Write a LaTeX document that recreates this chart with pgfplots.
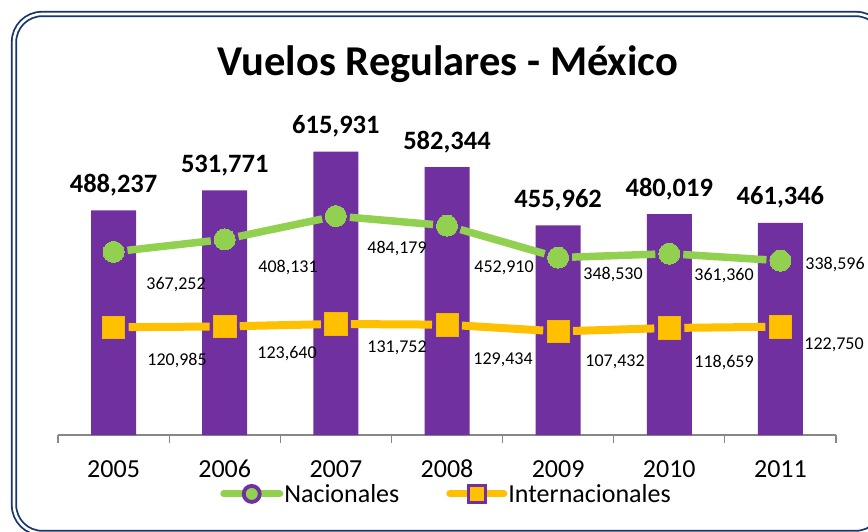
\documentclass[border=0pt]{standalone}
\usepackage{pgfplots}
\pgfplotsset{compat=1.18}
\usepackage{pgfplotstable}
\usepackage{fontspec}
\setmainfont{Carlito}
\definecolor{barpurple}{HTML}{7030A0}
\definecolor{ngreen}{HTML}{92D050}
\definecolor{iyellow}{HTML}{FFC000}
\definecolor{iedge}{HTML}{F5B800}
\definecolor{navy}{HTML}{17366B}
\definecolor{axgray}{HTML}{878787}

\pgfplotstableread{
x tot lab
1 488237 488,237
2 531771 531,771
3 615931 615,931
4 582344 582,344
5 455962 455,962
6 480019 480,019
7 461346 461,346
}\totals

\pgfplotstableread{
x nac int
1 367252 120985
2 408131 123640
3 484179 131752
4 452910 129434
5 348530 107432
6 361360 118659
7 338596 122750
}\series

\begin{document}
\begin{tikzpicture}
\useasboundingbox (0,0) rectangle (868pt,531pt);
\clip (0,0) rectangle (868pt,531pt);
\fill[white] (0,0) rectangle (868pt,531pt);
\draw[navy, line width=1.8pt, double=white, double distance=2.6pt, rounded corners=28pt]
  (14pt,-2pt) rectangle (884pt,517pt);

\node[font=\bfseries\fontsize{42.5}{50}\selectfont, anchor=base] at (448pt,455pt) {Vuelos Regulares - México};

% primary axis: bars (totals)
\begin{axis}[
  at={(58pt,96pt)}, anchor=south west,
  scale only axis, width=778pt, height=322pt,
  xmin=0.5, xmax=7.5, ymin=0, ymax=700000,
  hide y axis,
  axis x line*=bottom,
  x axis line style={-, draw=axgray, line width=1.4pt},
  xtick={1,...,7},
  xticklabels={2005,2006,2007,2008,2009,2010,2011},
  major tick length=0pt,
  minor xtick={0.5,1.5,...,7.5},
  minor tick length=8pt,
  tick align=outside,
  minor tick style={draw=axgray, line width=1.2pt},
  xticklabel style={font=\fontsize{26}{30}\selectfont, anchor=base, inner sep=0pt, yshift=-42pt},
  /pgf/number format/assume math mode=true,
  clip=false,
]
\addplot[ybar, bar width=45pt, fill=barpurple, draw=none,
  point meta=explicit symbolic,
  nodes near coords,
  every node near coord/.style={anchor=base, yshift=18pt, inner sep=0pt,
     font=\bfseries\fontsize{26.5}{30}\selectfont, text=black}]
  table[x=x, y=tot, meta=lab] {\totals};
\end{axis}

% secondary axis: lines
\begin{axis}[
  at={(58pt,96pt)}, anchor=south west,
  scale only axis, width=778pt, height=322pt,
  xmin=0.5, xmax=7.5, ymin=-231000, ymax=821000,
  axis lines=none,
  clip=false,
  legend style={at={(0.4987,-0.183)}, anchor=center, draw=none, fill=none,
    legend columns=2, font=\fontsize{26}{30}\selectfont,
    /tikz/every even column/.append style={column sep=46pt},
    nodes={inner sep=1pt}, inner sep=0pt},
  legend cell align=left,
]
% green segments
\pgfplotsforeachungrouped \i/\j in {1/2,2/3,3/4,4/5,5/6,6/7}{
  \edef\tmp{\noexpand\addplot[forget plot, no marks, color=ngreen, line width=7.5pt,
     shorten <=14pt, shorten >=14pt]
     table[x=x, y=nac, restrict expr to domain={\noexpand\thisrow{x}}{\i:\j}] {\noexpand\series};}
  \tmp
}
\addplot[forget plot, only marks, color=ngreen, mark=*, mark size=10.5pt,
  mark options={fill=ngreen, draw=ngreen, line width=0pt}] table[x=x, y=nac] {\series};
% yellow segments
\pgfplotsforeachungrouped \i/\j in {1/2,2/3,3/4,4/5,5/6,6/7}{
  \edef\tmp{\noexpand\addplot[forget plot, no marks, color=iyellow, line width=8pt,
     shorten <=15pt, shorten >=15pt]
     table[x=x, y=int, restrict expr to domain={\noexpand\thisrow{x}}{\i:\j}] {\noexpand\series};}
  \tmp
}
\addplot[forget plot, only marks, color=iyellow, mark=square*, mark size=11.2pt,
  mark options={fill=iyellow, draw=iedge, line width=0.6pt}] table[x=x, y=int] {\series};

\addlegendimage{legend image code/.code={
  \draw[draw=ngreen, line width=7pt, line cap=round] (0pt,0pt) -- (56pt,0pt);
  \draw[draw=barpurple, line width=3.8pt, fill=ngreen] (28pt,0pt) circle (8pt);}}
\addlegendentry{Nacionales}
\addlegendimage{legend image code/.code={
  \draw[draw=iyellow, line width=7pt, line cap=round] (0pt,0pt) -- (54pt,0pt);
  \draw[draw=barpurple, line width=3.2pt, fill=iyellow] (18.5pt,-8.5pt) rectangle (35.5pt,8.5pt);}}
\addlegendentry{Internacionales}
\end{axis}

% data labels of the lines
\begin{scope}[every node/.style={font=\fontsize{18}{22}\selectfont, inner sep=0pt, anchor=center}]
\node at (176pt,246pt) {367,252};
\node at (288pt,263pt) {408,131};
\node at (397pt,282pt) {484,179};
\node at (504pt,263pt) {452,910};
\node at (613pt,256pt) {348,530};
\node at (724pt,255pt) {361,360};
\node at (835pt,266pt) {338,596};
\node at (177pt,170pt) {120,985};
\node at (287pt,177pt) {123,640};
\node at (397pt,183pt) {131,752};
\node at (503pt,171pt) {129,434};
\node at (615pt,169pt) {107,432};
\node at (724pt,168pt) {118,659};
\node at (834pt,186pt) {122,750};
\end{scope}
\end{tikzpicture}
\end{document}
